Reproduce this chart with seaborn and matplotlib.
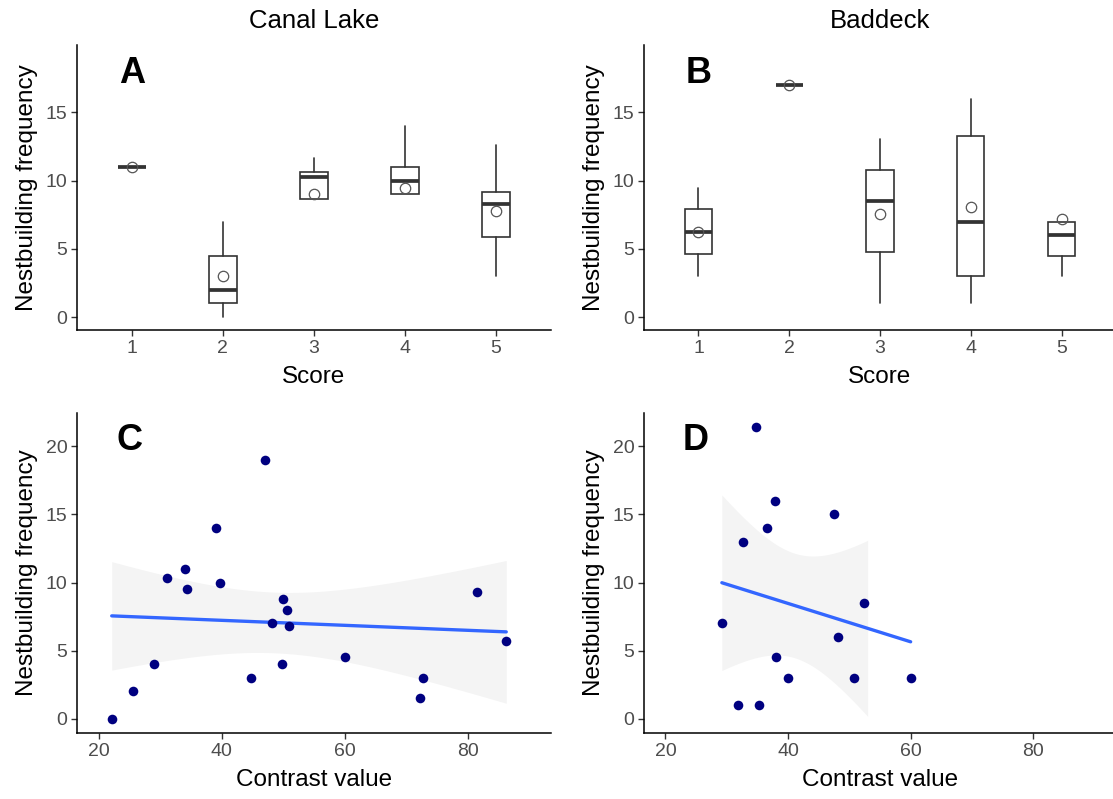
import numpy as np
import pandas as pd
import matplotlib
matplotlib.use("Agg")
import matplotlib.pyplot as plt
import seaborn as sns

# ---- box summaries (panels A, B) ----
scores = [1, 2, 3, 4, 5]

canal_low = [11, 0, 8.68, 9, 3]
canal_q1 = [11, 1, 8.68, 9, 5.9]
canal_med = [11, 2, 10.29, 10, 8.29]
canal_q3 = [11, 4.46, 10.66, 11, 9.17]
canal_high = [11, 7, 11.63, 14, 12.6]
canal_mean = [11, 3, 9.02, 9.44, 7.8]

baddeck_low = [3, 17, 1, 1, 3]
baddeck_q1 = [4.63, 17, 4.75, 3, 4.5]
baddeck_med = [6.23, 17, 8.48, 7, 6]
baddeck_q3 = [7.89, 17, 10.76, 13.3, 7]
baddeck_high = [9.49, 17, 13.04, 16, 7]
baddeck_mean = [6.23, 17, 7.55, 8.09, 7.16]

# ---- contrast vs nestbuilding (panels C, D) ----
canal_contrast = [22.1, 25.5, 28.9, 31.1, 34.1, 34.4, 39.1, 39.7, 44.7, 47.0,
                  48.2, 50.0, 50.6, 50.9, 49.8, 60.1, 72.2, 72.7, 81.5, 86.3]
canal_nest = [0, 2, 4, 10.3, 11, 9.5, 14, 10, 3, 19,
              7, 8.8, 8, 6.8, 4, 4.5, 1.5, 3, 9.3, 5.7]

baddeck_contrast = [29.2, 31.8, 32.7, 34.7, 35.3, 36.6, 37.9, 38.0, 40.0, 47.5,
                    48.2, 50.7, 52.4, 60.0]
baddeck_nest = [7, 1, 13, 21.4, 1, 14, 16, 4.5, 3, 15, 6, 3, 8.5, 3]

sites = ["Canal Lake", "Baddeck"]
panel_letters = ["A", "B", "C", "D"]

sns.set_theme(style="ticks")
plt.rcParams['font.family'] = ['Liberation Sans', 'DejaVu Sans']
plt.rcParams['text.color'] = 'black'
plt.rcParams['axes.labelcolor'] = 'black'

W, H = 1113, 799
DARK = "#333333"
TICK = "#4D4D4D"


def t_crit(df):
    try:
        from scipy import stats
        return stats.t.ppf(0.975, df)
    except ImportError:
        return {12: 2.178813, 18: 2.100922}[df]


def px_axes(fig, left, top, right, bottom):
    # axes rectangle given in pixel coords of the target picture
    return fig.add_axes([left / W, 1 - bottom / H, (right - left) / W, (bottom - top) / H])


def style_axes(ax):
    sns.despine(ax=ax)
    for side in ["left", "bottom"]:
        ax.spines[side].set_color("black")
        ax.spines[side].set_linewidth(1.1)
    ax.tick_params(length=4, width=1, color=DARK, labelcolor=TICK, labelsize=14, pad=3)


def box_panel(ax, low, q1, med, q3, high, mean, letter):
    stats = [dict(whislo=a, q1=b, med=c, q3=d, whishi=e, fliers=[])
             for a, b, c, d, e in zip(low, q1, med, q3, high)]
    ax.bxp(stats, positions=scores, widths=0.3, showcaps=False, showfliers=False,
           patch_artist=True,
           boxprops=dict(facecolor="white", edgecolor=DARK, linewidth=1.2),
           whiskerprops=dict(color=DARK, linewidth=1.2),
           medianprops=dict(color=DARK, linewidth=2.7, solid_capstyle="butt"))
    ax.plot(scores, mean, "o", mfc="none", mec="#555555", ms=7.5, mew=0.9, zorder=4)
    ax.set_xlim(0.4, 5.6)
    ax.set_ylim(-0.95, 19.95)
    ax.set_xticks(scores)
    ax.set_xticklabels([str(s) for s in scores])
    ax.set_yticks([0, 5, 10, 15])
    ax.set_xlabel("Score", fontsize=17.5)
    ax.set_ylabel("Nestbuilding frequency", fontsize=17.5)
    ax.text(1, 17.85, letter, fontsize=26, fontweight="bold", color="black",
            ha="center", va="center")
    style_axes(ax)


def scatter_panel(ax, x, y, letter, y_max):
    x = np.asarray(x, float)
    y = np.asarray(y, float)
    df = pd.DataFrame({"contrast": x, "nest": y})

    # linear fit with 95% confidence band (like geom_smooth(method = "lm"))
    b, a = np.polyfit(x, y, 1)
    grid = np.linspace(x.min(), x.max(), 80)
    fit = a + b * grid
    n = len(x)
    s = np.sqrt(np.sum((y - (a + b * x)) ** 2) / (n - 2))
    se = s * np.sqrt(1 / n + (grid - x.mean()) ** 2 / np.sum((x - x.mean()) ** 2))
    half = t_crit(n - 2) * se
    lo, hi = fit - half, fit + half
    keep = (lo >= 0) & (hi <= y_max)  # band dropped outside the y limits
    ax.fill_between(grid[keep], lo[keep], hi[keep], color="#F4F4F4", lw=0, zorder=1)
    sns.lineplot(x=grid, y=fit, color="#3366FF", lw=2.4, ax=ax, zorder=2)

    sns.scatterplot(data=df, x="contrast", y="nest", color="#000080", s=48,
                    linewidth=0, ax=ax, zorder=3)
    ax.set_xlim(16.5, 93.5)
    pad = 0.05 * y_max
    ax.set_ylim(-pad, y_max + pad)
    ax.set_xticks([20, 40, 60, 80])
    ax.set_yticks([0, 5, 10, 15, 20])
    ax.set_xlabel("Contrast value", fontsize=17.5)
    ax.set_ylabel("Nestbuilding frequency", fontsize=17.5)
    ax.text(25, 20.4, letter, fontsize=26, fontweight="bold", color="black",
            ha="center", va="center")
    style_axes(ax)


fig = plt.figure(figsize=(W / 100, H / 100), dpi=100)
fig.patch.set_facecolor("white")

ax_a = px_axes(fig, 77.3, 45, 550.5, 330)
ax_b = px_axes(fig, 644, 45, 1116, 330)
ax_c = px_axes(fig, 77.3, 412.7, 550.5, 733.3)
ax_d = px_axes(fig, 644, 412.7, 1116, 733.3)

box_panel(ax_a, canal_low, canal_q1, canal_med, canal_q3, canal_high, canal_mean, panel_letters[0])
box_panel(ax_b, baddeck_low, baddeck_q1, baddeck_med, baddeck_q3, baddeck_high, baddeck_mean,
          panel_letters[1])

y_max = max(max(canal_nest), max(baddeck_nest))
scatter_panel(ax_c, canal_contrast, canal_nest, panel_letters[2], y_max)
scatter_panel(ax_d, baddeck_contrast, baddeck_nest, panel_letters[3], y_max)

for ax in [ax_a, ax_b, ax_c, ax_d]:
    ax.yaxis.set_label_coords(-0.082, 0.5)
for ax in [ax_a, ax_b]:
    ax.xaxis.set_label_coords(0.5, -0.125)
for ax in [ax_c, ax_d]:
    ax.xaxis.set_label_coords(0.5, -0.11)

fig.text((77.3 + 550.5) / 2 / W, 1 - 21 / H, sites[0], fontsize=18.5, color="black",
         ha="center", va="center")
fig.text((644 + 1116) / 2 / W, 1 - 21 / H, sites[1], fontsize=18.5, color="black",
         ha="center", va="center")

fig.savefig("out.png", dpi=100, facecolor="white")
